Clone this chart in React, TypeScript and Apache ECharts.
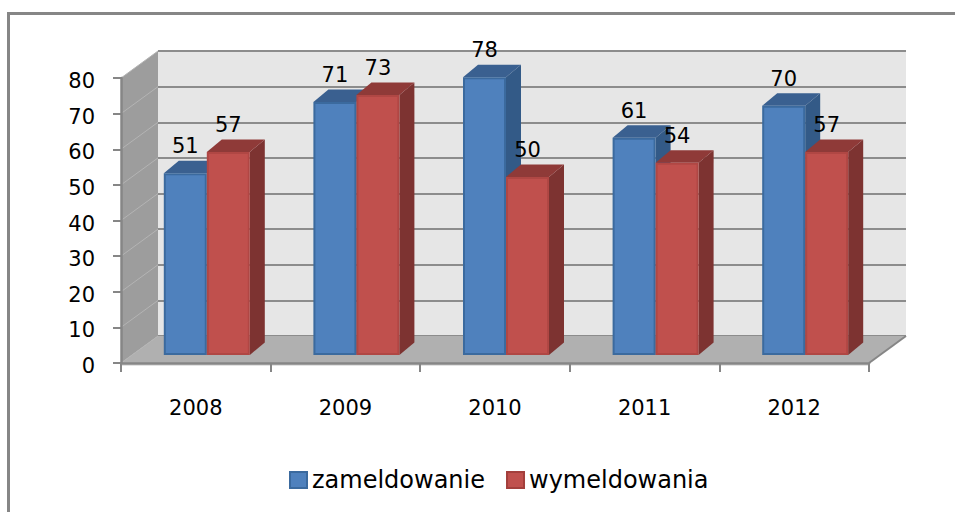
import React, { useEffect, useRef } from "react";
import * as echarts from "echarts";

const years = ["2008", "2009", "2010", "2011", "2012"];
const zameldowanie = [51, 71, 78, 61, 70];
const wymeldowania = [57, 73, 50, 54, 57];
const gridTicks = [0, 10, 20, 30, 40, 50, 60, 70, 80];

const FONT = "'DejaVu Sans', sans-serif";
const DEPTH_X = 37, DEPTH_Y = -27;      // wall depth
const BAR_DX = 11, BAR_DY = -8;         // bar offset in depth
const BAR_W = 43, BAR_DEPTH_X = 15, BAR_DEPTH_Y = -12.5;

function cuboid(seriesIndex: number, front: string, top: string, side: string, border: string) {
  return (_p: any, api: any) => {
    const idx = api.value(0), val = api.value(1);
    const [cx, yTop] = api.coord([idx, val]);
    const [, yBase] = api.coord([idx, 0]);
    const x0 = cx + BAR_DX + (seriesIndex === 0 ? -BAR_W : 0);
    const x1 = x0 + BAR_W;
    const t = yTop + BAR_DY, b = yBase + BAR_DY;
    return {
      type: "group",
      children: [
        { type: "polygon", shape: { points: [[x1, t], [x1 + BAR_DEPTH_X, t + BAR_DEPTH_Y], [x1 + BAR_DEPTH_X, b + BAR_DEPTH_Y], [x1, b]] }, style: { fill: side } },
        { type: "polygon", shape: { points: [[x0, t], [x0 + BAR_DEPTH_X, t + BAR_DEPTH_Y], [x1 + BAR_DEPTH_X, t + BAR_DEPTH_Y], [x1, t]] }, style: { fill: top } },
        { type: "rect", shape: { x: x0 + 1, y: t + 1, width: BAR_W - 2, height: b - t - 2 }, style: { fill: front, stroke: border, lineWidth: 2 } },
        { type: "text", style: { text: String(val), x: x0 + BAR_W / 2, y: t - 27, align: "center", verticalAlign: "middle", font: `21px ${FONT}`, fill: "#000" } },
      ],
    };
  };
}

function walls(params: any, api: any) {
  const cs = params.coordSys;
  const x0 = cs.x, x1 = cs.x + cs.width, yT = cs.y, y0 = cs.y + cs.height;
  const children: any[] = [
    { type: "polygon", shape: { points: [[x0, yT], [x0 + DEPTH_X, yT + DEPTH_Y], [x0 + DEPTH_X, y0 + DEPTH_Y], [x0, y0]] }, style: { fill: "#9d9d9d" } },
    { type: "polygon", shape: { points: [[x0, y0], [x0 + DEPTH_X, y0 + DEPTH_Y], [x1 + DEPTH_X, y0 + DEPTH_Y], [x1, y0]] }, style: { fill: "#b0b0b0" } },
    { type: "rect", shape: { x: x0, y: y0, width: x1 - x0, height: 3 }, style: { fill: "#e2e2e2" } },
    { type: "line", shape: { x1: x1, y1: y0, x2: x1 + DEPTH_X, y2: y0 + DEPTH_Y }, style: { stroke: "#868686", lineWidth: 2 } },
  ];
  gridTicks.forEach((v) => {
    const [, y] = api.coord([0, v]);
    children.push({ type: "line", shape: { x1: x0, y1: y, x2: x0 + DEPTH_X, y2: y + DEPTH_Y }, style: { stroke: "#b4b4b4", lineWidth: 1 } });
  });
  return { type: "group", children };
}

export default function App() {
  const ref = useRef<HTMLDivElement>(null);
  useEffect(() => {
    const chart = echarts.init(ref.current!, null, { renderer: "svg" });
    chart.setOption({
      animation: false,
      backgroundColor: "#ffffff",
      textStyle: { fontFamily: FONT },
      grid: [
        { left: 121, width: 748, top: 78, height: 285 },
        { left: 158, width: 748, top: 51, height: 285, show: true, backgroundColor: "#e6e6e6", borderWidth: 0 },
      ],
      xAxis: [
        {
          type: "category", gridIndex: 0, data: years,
          axisLine: { show: true, lineStyle: { color: "#868686", width: 2.5 } },
          axisTick: { show: true, length: 9, alignWithLabel: false, lineStyle: { color: "#868686", width: 2 } },
          axisLabel: { color: "#000", fontSize: 21, fontFamily: FONT, margin: 34 },
          z: 5,
        },
        { type: "category", gridIndex: 1, data: years, show: false },
      ],
      yAxis: [
        {
          type: "value", gridIndex: 0, min: 0, max: 80, interval: 10,
          axisLine: { show: true, lineStyle: { color: "#868686", width: 2.5 } },
          axisTick: { show: true, length: 8, lineStyle: { color: "#868686", width: 2 } },
          axisLabel: { color: "#000", fontSize: 21, fontFamily: FONT, margin: 26, verticalAlign: "top", lineHeight: 6 },
          splitLine: { show: false },
          z: 5,
        },
        {
          type: "value", gridIndex: 1, min: 0, max: 80, interval: 10,
          axisLine: { show: false }, axisTick: { show: false }, axisLabel: { show: false },
          splitLine: { show: true, lineStyle: { color: "#8c8c8c", width: 2 } },
        },
      ],
      legend: {
        left: 289, top: 468, padding: 0, icon: "rect", itemWidth: 17, itemHeight: 16, itemGap: 21,
        data: ["zameldowanie", "wymeldowania"],
        textStyle: { color: "#000", fontSize: 24, fontFamily: FONT },
      },
      series: [
        {
          type: "custom", name: "walls", xAxisIndex: 0, yAxisIndex: 0, silent: true, z: 1,
          data: [[0, 0]], encode: { x: 0, y: 1 }, renderItem: walls, clip: false,
        },
        {
          type: "custom", name: "zameldowanie", xAxisIndex: 0, yAxisIndex: 0, z: 3, clip: false,
          itemStyle: { color: "#4f81bd", borderColor: "#3b6a9e", borderWidth: 2 },
          encode: { x: 0, y: 1 },
          data: zameldowanie.map((v, i) => [i, v]),
          renderItem: cuboid(0, "#4f81bd", "#3a6090", "#335a87", "#3b6a9e"),
        },
        {
          type: "custom", name: "wymeldowania", xAxisIndex: 0, yAxisIndex: 0, z: 4, clip: false,
          itemStyle: { color: "#c0504d", borderColor: "#a33f3c", borderWidth: 2 },
          encode: { x: 0, y: 1 },
          data: wymeldowania.map((v, i) => [i, v]),
          renderItem: cuboid(1, "#c0504d", "#8f3a38", "#7d3331", "#b04744"),
        },
      ],
      graphic: [
        { type: "line", shape: { x1: 7, y1: 13.5, x2: 955, y2: 13.5 }, style: { stroke: "#868686", lineWidth: 3 } },
        { type: "line", shape: { x1: 8.5, y1: 12, x2: 8.5, y2: 512 }, style: { stroke: "#868686", lineWidth: 3 } },
      ],
    });
    return () => chart.dispose();
  }, []);
  return <div ref={ref} style={{ position: "fixed", left: 0, top: 0, width: 955, height: 512 }} />;
}
